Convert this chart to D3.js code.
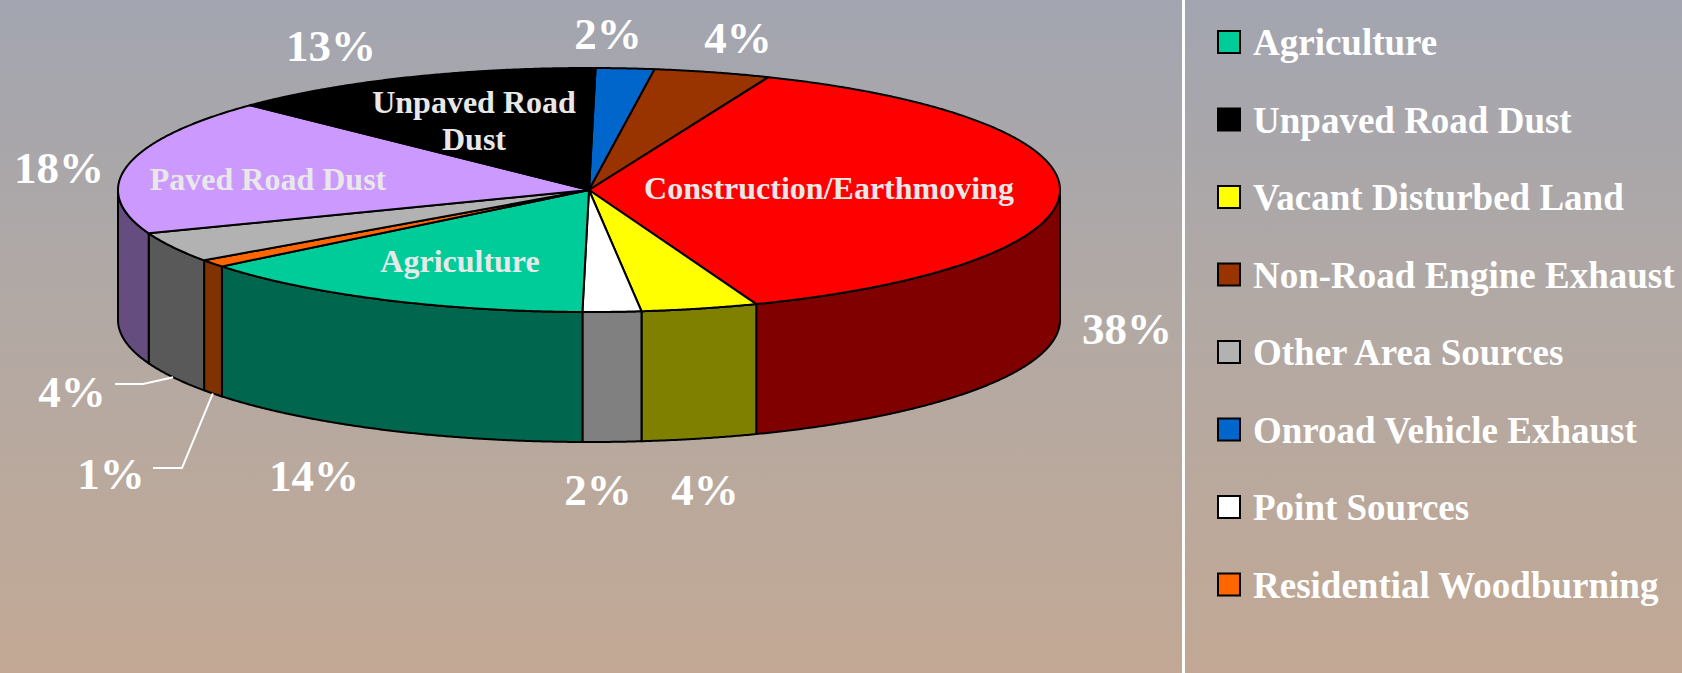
<!DOCTYPE html>
<html>
<head>
<meta charset="utf-8">
<script src="https://cdn.jsdelivr.net/npm/d3@7"></script>
<style>
  html, body { margin: 0; padding: 0; overflow: hidden; }
  svg { display: block; }
</style>
</head>
<body>
<svg id="chart" width="1682" height="673"></svg>
<script>
// ---- data: PM10 emission shares by source category (clockwise from top) ----
const categories = [
  "Onroad Vehicle Exhaust",
  "Non-Road Engine Exhaust",
  "Construction/Earthmoving",
  "Vacant Disturbed Land",
  "Point Sources",
  "Agriculture",
  "Residential Woodburning",
  "Other Area Sources",
  "Paved Road Dust",
  "Unpaved Road Dust"
];
const values = [2, 4, 38, 4, 2, 14, 1, 4, 18, 13];
const sliceColors = [
  "#0066CC", "#993300", "#FF0000", "#FFFF00", "#FFFFFF",
  "#00CC99", "#FF6600", "#B2B2B2", "#CC99FF", "#000000"
];
const legendLabels = [
  "Agriculture",
  "Unpaved Road Dust",
  "Vacant Disturbed Land",
  "Non-Road Engine Exhaust",
  "Other Area Sources",
  "Onroad Vehicle Exhaust",
  "Point Sources",
  "Residential Woodburning"
];
// slices that carry their name on the top face
const innerLabels = [
  { category: "Unpaved Road Dust", lines: ["Unpaved Road", "Dust"] },
  { category: "Paved Road Dust", lines: ["Paved Road Dust"] },
  { category: "Construction/Earthmoving", lines: ["Construction/Earthmoving"] },
  { category: "Agriculture", lines: ["Agriculture"] }
];

// ---- layout ----
const W = 1682, H = 673;
const geo = { cx: 589, cy: 190, rx: 471, ry: 122, depth: 130, startDeg: 0.8 };
const fontFamily = "'Liberation Serif', 'Times New Roman', Times, serif";

// percent label placement (centre x, baseline y), by category
const pctLabelPos = {
  "Onroad Vehicle Exhaust":   [608, 49],
  "Non-Road Engine Exhaust":  [738, 53],
  "Construction/Earthmoving": [1127, 344],
  "Vacant Disturbed Land":    [705, 505],
  "Point Sources":            [598, 505],
  "Agriculture":              [314, 491],
  "Residential Woodburning":  [111, 489],
  "Other Area Sources":       [72, 407],
  "Paved Road Dust":          [59, 183],
  "Unpaved Road Dust":        [331, 61]
};
// leader lines: start point and elbow; the end sits on the slice's lower rim
const leaderPath = {
  "Other Area Sources":      [[115, 384], [143, 384]],
  "Residential Woodburning": [[153, 468], [182, 468]]
};
// inner label placement (centre x, first baseline y)
const innerLabelPos = {
  "Unpaved Road Dust": [474, 113],
  "Paved Road Dust": [268, 190],
  "Construction/Earthmoving": [829, 199],
  "Agriculture": [460, 272]
};

const svg = d3.select("#chart");

// background gradient
const defs = svg.append("defs");
const grad = defs.append("linearGradient")
  .attr("id", "bg").attr("x1", 0).attr("y1", 0).attr("x2", 0).attr("y2", 1);
grad.append("stop").attr("offset", "0%").attr("stop-color", "#A2A5B0");
grad.append("stop").attr("offset", "50%").attr("stop-color", "#B3A9A3");
grad.append("stop").attr("offset", "100%").attr("stop-color", "#C2A894");
svg.append("rect").attr("width", W).attr("height", H).attr("fill", "url(#bg)");

// divider between plot and legend
svg.append("rect").attr("x", 1182).attr("y", 0).attr("width", 3).attr("height", H).attr("fill", "#FFFFFF");

// ---- pie geometry ----
const start = geo.startDeg * Math.PI / 180;
const pie = d3.pie().sort(null).value(d => d.value)
  .startAngle(start).endAngle(start + 2 * Math.PI);
const data = categories.map((c, i) => ({ category: c, value: values[i], color: sliceColors[i] }));
const arcs = pie(data);

const pt = (a, z = 0) => [geo.cx + geo.rx * Math.sin(a), geo.cy - geo.ry * Math.cos(a) + z];
const sampleArc = (a0, a1, z) => {
  const n = Math.max(2, Math.ceil(Math.abs(a1 - a0) / 0.005) + 1);
  const s = d3.scaleLinear().domain([0, n - 1]).range([a0, a1]);
  return d3.range(n).map(k => pt(s(k), z));
};
const line = d3.line();
const darken = c => { const r = d3.rgb(c); return d3.rgb(r.r * 0.5, r.g * 0.5, r.b * 0.5).formatHex(); };

const pieG = svg.append("g");

// side walls (front half only)
const sideG = pieG.append("g");
arcs.forEach(a => {
  const lo = Math.max(a.startAngle, Math.PI / 2);
  const hi = Math.min(a.endAngle, 3 * Math.PI / 2);
  if (hi <= lo) return;
  const pts = sampleArc(lo, hi, 0).concat(sampleArc(hi, lo, geo.depth));
  sideG.append("path")
    .attr("d", line(pts) + "Z")
    .attr("fill", darken(a.data.color))
    .attr("stroke", "#000")
    .attr("stroke-width", 2)
    .attr("stroke-linejoin", "round");
});

// top faces
const topG = pieG.append("g");
arcs.forEach(a => {
  const pts = [[geo.cx, geo.cy]].concat(sampleArc(a.startAngle, a.endAngle, 0));
  topG.append("path")
    .attr("d", line(pts) + "Z")
    .attr("fill", a.data.color)
    .attr("stroke", "#000")
    .attr("stroke-width", 2)
    .attr("stroke-linejoin", "round");
});

// inner labels
innerLabels.forEach(l => {
  const p = innerLabelPos[l.category];
  const t = svg.append("text")
    .attr("x", p[0]).attr("y", p[1])
    .attr("text-anchor", "middle")
    .attr("font-family", fontFamily)
    .attr("font-weight", "bold")
    .attr("font-size", 32)
    .attr("fill", "#E8E8E8");
  l.lines.forEach((s, i) => {
    t.append("tspan").attr("x", p[0]).attr("dy", i === 0 ? 0 : 37).text(s);
  });
});

// leader lines
arcs.forEach(a => {
  const lp = leaderPath[a.data.category];
  if (!lp) return;
  const mid = (a.startAngle + a.endAngle) / 2;
  const end = pt(mid, geo.depth);
  svg.append("path")
    .attr("d", line(lp.concat([end])))
    .attr("fill", "none")
    .attr("stroke", "#FFFFFF")
    .attr("stroke-width", 2);
});

// percent labels
arcs.forEach(a => {
  const p = pctLabelPos[a.data.category];
  svg.append("text")
    .attr("x", p[0]).attr("y", p[1])
    .attr("text-anchor", "middle")
    .attr("font-family", fontFamily)
    .attr("font-weight", "bold")
    .attr("font-size", 45)
    .attr("fill", "#FFFFFF")
    .text(a.data.value + "%");
});

// legend
const colorOf = d3.scaleOrdinal().domain(categories).range(sliceColors);
const legendY = d3.scalePoint().domain(legendLabels).range([0, 7 * 77.5]);
const legend = svg.append("g").attr("transform", "translate(1217, 30)");
legendLabels.forEach(name => {
  const g = legend.append("g").attr("transform", `translate(0, ${legendY(name)})`);
  g.append("rect")
    .attr("x", 1).attr("y", 1).attr("width", 22).attr("height", 22)
    .attr("fill", colorOf(name))
    .attr("stroke", "#000").attr("stroke-width", 2);
  g.append("text")
    .attr("x", 36).attr("y", 25)
    .attr("font-family", fontFamily)
    .attr("font-weight", "bold")
    .attr("font-size", 37)
    .attr("fill", "#FFFFFF")
    .text(name);
});
</script>
</body>
</html>
